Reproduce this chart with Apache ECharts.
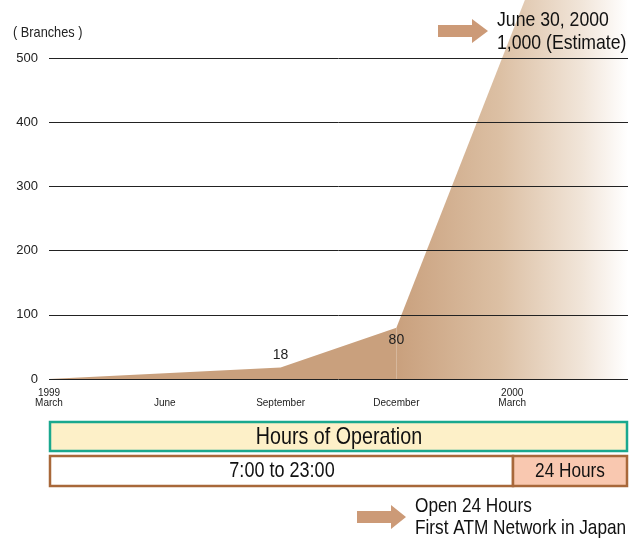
<!DOCTYPE html>
<html>
<head>
<meta charset="utf-8">
<script src="https://cdn.jsdelivr.net/npm/echarts@6/dist/echarts.min.js"></script>
<style>
html,body{margin:0;padding:0;background:#fff;}
#c{width:643px;height:538px;}
</style>
</head>
<body>
<div id="c"></div>
<script>
// Months since March 1999
const tickMonths = [0, 3, 6, 9, 12];
const tickLabels = ['1999\nMarch', '\nJune', '\nSeptember', '\nDecember', '2000\nMarch'];
const actualMonths = [0, 6, 9];
const actualValues = [0, 18, 80];
const estimateMonths = [9, 15];
const estimateValues = [80, 1000];
const yTicks = [0, 100, 200, 300, 400, 500];

const FONT = '"Liberation Sans", Arial, sans-serif';
const TAN = '#c9a07d';
const NARROW = 0.82;

// condensed-looking text helper (horizontal scale on a real text element)
function ctext(x, y, text, size, opts, sx) {
  opts = opts || {};
  return {
    type: 'text', x: x, y: y, scaleX: sx || NARROW, scaleY: 1, z: 10,
    style: Object.assign({
      x: 0, y: 0, text: text, fontSize: size, fill: '#111', fontFamily: FONT,
      align: 'left', verticalAlign: 'top'
    }, opts)
  };
}

const chart = echarts.init(document.getElementById('c'));
chart.setOption({
  animation: false,
  backgroundColor: '#fff',
  grid: { left: 49, right: 15, top: 58, bottom: 159 },
  xAxis: {
    type: 'value', min: 0, max: 15, interval: 3,
    axisLine: { show: false },
    axisTick: { show: false },
    splitLine: { show: false },
    axisLabel: {
      margin: 9, fontSize: 10, lineHeight: 10, color: '#222', fontFamily: FONT,
      verticalAlign: 'top',
      formatter: v => { const i = tickMonths.indexOf(v); return i >= 0 ? tickLabels[i] : ''; }
    }
  },
  yAxis: {
    type: 'value', min: yTicks[0], max: yTicks[yTicks.length - 1], interval: 100,
    z: 5,
    axisLine: { show: false }, axisTick: { show: false },
    splitLine: { lineStyle: { color: '#222', width: 1 } },
    axisLabel: { fontSize: 13, color: '#222', margin: 11, fontFamily: FONT }
  },
  series: [
    {
      type: 'line', z: 1,
      data: actualMonths.map((m, i) => ({
        value: [m, actualValues[i]],
        label: {
          show: actualValues[i] > 0,
          position: actualValues[i] >= 50 ? 'bottom' : 'top',
          distance: 5
        }
      })),
      symbol: 'circle', symbolSize: 1, showSymbol: true,
      itemStyle: { color: 'rgba(0,0,0,0)' },
      lineStyle: { width: 0 },
      areaStyle: { color: TAN, opacity: 1 },
      label: { show: true, fontSize: 14, color: '#222', fontFamily: FONT, formatter: p => p.value[1] }
    },
    {
      type: 'line', z: 1, clip: false,
      data: estimateMonths.map((m, i) => [m, estimateValues[i]]),
      showSymbol: false,
      lineStyle: { width: 0 },
      areaStyle: {
        opacity: 1,
        color: new echarts.graphic.LinearGradient(0, 0, 1, 0, [
          { offset: 0, color: '#c9a07d' },
          { offset: 0.45, color: '#dcc0a4' },
          { offset: 0.8, color: '#f1e5d9' },
          { offset: 1, color: '#ffffff' }
        ])
      }
    }
  ],
  graphic: [
    ctext(13, 25, '( Branches )', 15, { fill: '#222' }, 0.85),
    { type: 'polygon', z: 10, shape: { points: [[438, 25], [472, 25], [472, 19], [488, 31], [472, 43], [472, 37], [438, 37]] }, style: { fill: '#cc9a77' } },
    ctext(497, 9, 'June 30, 2000\n1,000 (Estimate)', 21, { lineHeight: 23 }, 0.84),
    { type: 'rect', shape: { x: 50, y: 422, width: 577, height: 29 }, style: { fill: '#fdf0c8', stroke: '#1aa88e', lineWidth: 2.5 } },
    ctext(339, 437, 'Hours of Operation', 24, { align: 'center', verticalAlign: 'middle' }),
    { type: 'rect', shape: { x: 50, y: 456, width: 463, height: 30 }, style: { fill: '#ffffff', stroke: '#a8683a', lineWidth: 2.5 } },
    { type: 'rect', shape: { x: 513, y: 456, width: 114, height: 30 }, style: { fill: '#f9c8b0', stroke: '#a8683a', lineWidth: 2.5 } },
    ctext(282, 471, '7:00 to 23:00', 22, { align: 'center', verticalAlign: 'middle' }),
    ctext(570, 471, '24 Hours', 21, { align: 'center', verticalAlign: 'middle' }),
    { type: 'polygon', shape: { points: [[357, 511], [391, 511], [391, 505], [406, 517], [391, 529], [391, 523], [357, 523]] }, style: { fill: '#cc9a77' } },
    ctext(415, 495, 'Open 24 Hours\nFirst ATM Network in Japan', 21, { lineHeight: 22 })
  ]
});
</script>
</body>
</html>
